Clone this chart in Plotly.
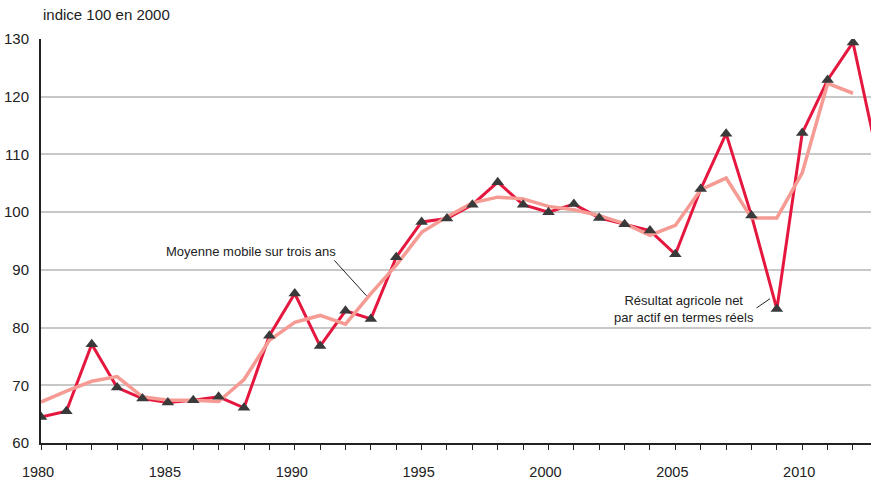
import plotly.graph_objects as go

years = list(range(1980, 2014))
resultat = [64.5, 65.5, 77.1, 69.6, 67.7, 67.0, 67.4, 68.0, 66.1, 78.6,
            85.9, 76.8, 82.9, 81.5, 92.2, 98.3, 98.9, 101.3, 105.2, 101.3,
            100.0, 101.4, 99.0, 97.9, 96.8, 92.7, 104.0, 113.6, 99.4, 83.2,
            113.7, 122.9, 129.4, 109.0]
moyenne_years = list(range(1980, 2013))
moyenne = [67.1, 69.0, 70.7, 71.5, 68.0, 67.4, 67.4, 67.2, 71.0, 77.8,
           80.9, 82.1, 80.6, 85.9, 90.8, 96.5, 99.2, 101.6, 102.6, 102.3,
           101.0, 100.4, 99.4, 98.0, 96.0, 97.7, 103.9, 105.9, 99.0, 99.0,
           106.8, 122.3, 120.6]
marker_years = years[:-1]
marker_vals = resultat[:-1]

x_ticks = [1980, 1985, 1990, 1995, 2000, 2005, 2010]
y_ticks = [60, 70, 80, 90, 100, 110, 120, 130]

FONT = "Liberation Sans, Arial, sans-serif"
TXT = "#222222"

fig = go.Figure()
fig.add_trace(go.Scatter(x=years, y=resultat, mode="lines",
                         line=dict(color="#e5173f", width=3), hoverinfo="skip"))
fig.add_trace(go.Scatter(x=moyenne_years, y=moyenne, mode="lines",
                         line=dict(color="#f59b94", width=3.5), hoverinfo="skip"))
fig.add_trace(go.Scatter(x=marker_years, y=marker_vals, mode="markers",
                         marker=dict(symbol="triangle-up", size=11, color="#3a3a3a"),
                         hoverinfo="skip"))

fig.update_layout(
    width=871, height=481,
    margin=dict(l=41, r=0, t=39, b=38),
    plot_bgcolor="white", paper_bgcolor="white",
    showlegend=False,
    font=dict(family=FONT, size=15, color=TXT),
    xaxis=dict(range=[1980, 2012.71], tickvals=x_ticks, ticktext=[str(v) for v in x_ticks],
               showgrid=False, zeroline=False, showline=True, linecolor="#222222", linewidth=2,
               ticks="outside", ticklen=5, tickwidth=1, tickcolor="#222222",
               minor=dict(dtick=1, tick0=1980, ticks="outside", ticklen=5, tickwidth=1,
                          tickcolor="#222222", showgrid=False),
               tickfont=dict(size=14.5), ticklabelshift=-3, ticklabelstandoff=10),
    yaxis=dict(range=[60, 130], tickvals=y_ticks, showgrid=True, gridcolor="#c8c8c8",
               gridwidth=1.5, zeroline=False, showline=True, linecolor="#222222", linewidth=2,
               ticks="", tickfont=dict(size=15), ticklabelstandoff=7),
    annotations=[
        dict(text="indice 100 en 2000", xref="paper", yref="paper", x=0.0, y=1.060,
             xanchor="left", yanchor="middle", showarrow=False, font=dict(size=15)),
        dict(text="Moyenne mobile sur trois ans", x=1988.27, y=93.2, xanchor="center",
             yanchor="middle", showarrow=False, font=dict(size=13)),
        dict(text="Résultat agricole net<br>par actif en termes réels", x=2005.34, y=83.2,
             xanchor="center", yanchor="middle", showarrow=False, font=dict(size=13)),
    ],
    shapes=[
        dict(type="line", x0=1991.56, y0=91.64, x1=1992.83, y1=85.5,
             line=dict(color="#222222", width=1)),
        dict(type="line", x0=2008.2, y0=83.4, x1=2008.73, y1=85.0,
             line=dict(color="#222222", width=1)),
    ],
)

fig.write_html(
    "out.html",
    config={"displayModeBar": False},
    post_script="document.body.style.margin='0';document.body.style.overflow='hidden';",
)
